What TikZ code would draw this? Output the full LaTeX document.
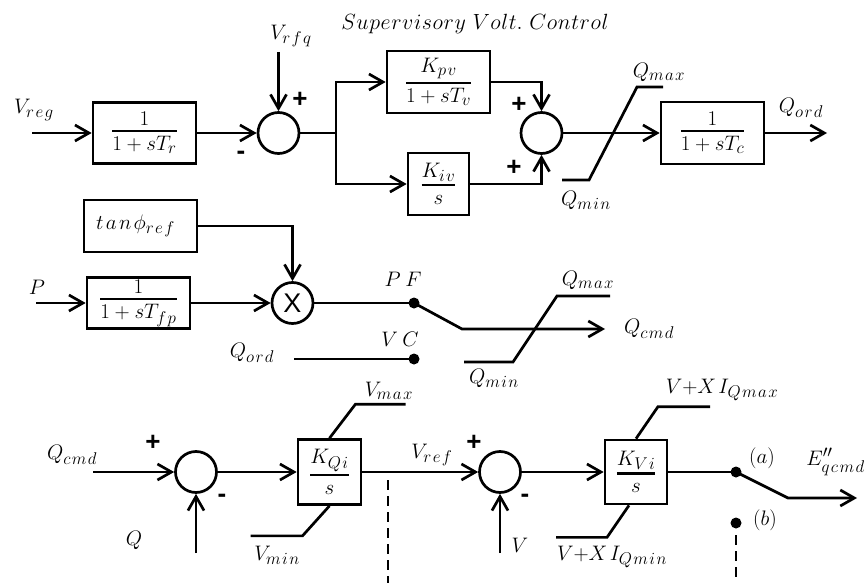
\RequirePackage{fix-cm}
\documentclass[tikz,border=0pt]{standalone}
\usepackage{amsmath}
\usepackage{fontspec}
\newfontfamily\arialf{Liberation Sans}
\usetikzlibrary{arrows.meta}
\DeclareMathSizes{21}{21}{17}{12}
\DeclareMathSizes{22}{22}{16}{12}
\newcommand{\ks}{\mkern1.5mu}
\newcommand{\ts}{\mkern2mu}
\newcommand{\tts}{\mkern0.5mu}
\newcommand{\ws}{\mkern4mu}
\newcommand{\fr}[2]{{{\textstyle #1\rule[-2pt]{0pt}{2pt}}\above 2.4pt{\textstyle\rule{0pt}{16pt}#2}}}
\tikzset{
  blk/.style={draw, inner sep=0pt, font=\fontsize{21}{24}\selectfont},
  sumc/.style={draw, circle, minimum size=41pt, inner sep=0pt},
  lbl/.style={font=\fontsize{21}{24}\selectfont, inner sep=0pt},
  ttl/.style={font=\fontsize{22}{26}\selectfont, inner sep=0pt},
  sgn/.style={font=\arialf\bfseries\fontsize{26}{28}\selectfont, inner sep=0pt},
  dotn/.style={circle, fill, minimum size=11pt, inner sep=0pt},
  arr/.style={-{Straight Barb[length=14pt,width=16pt]}},
  dsh/.style={dash pattern=on 10pt off 6pt},
}
\begin{document}
\begin{tikzpicture}[x=1pt,y=-1pt,line width=2.7pt]
\useasboundingbox (0,0) rectangle (864,583);
% ---------- top section ----------
\node[ttl] (title) at (475,24) {$S\tts u\tts p\tts e\tts r\tts v\tts i\tts s\tts o\tts r\tts y\ V\tts o\tts l\tts t.\ C\tts o\tts n\tts t\tts r\tts o\tts l$};
\node[blk, minimum width=103pt, minimum height=61pt] (Tr) at (144.5,133) {$\fr{1}{1+sT_r}$};
\node[sumc] (s1) at (278.5,133) {};
\node[blk, minimum width=103pt, minimum height=62pt] (Kpv) at (438.5,82) {$\fr{K_{p\ks v}}{1+sT_v}$};
\node[blk, minimum width=61pt, minimum height=62pt] (Kiv) at (438.5,184) {$\fr{K_{i\ks v}}{s}$};
\node[sumc] (s2) at (541.5,133) {};
\node[blk, minimum width=103pt, minimum height=62pt] (Tc) at (712.5,133) {$\fr{1}{1+sT_c}$};
\coordinate (in1) at (32,133);
\coordinate (vrfq) at (278.5,52);
\coordinate (br) at (336,133);
\coordinate (qordo) at (827,133);
\draw[arr] (in1) -- (Tr.west);
\draw[arr] (Tr.east) -- (s1.west);
\draw[arr] (vrfq) -- (s1.north);
\draw (s1.east) -- (br);
\draw[arr] (br) |- (Kpv.west);
\draw[arr] (br) |- (Kiv.west);
\draw[arr] (Kpv.east) -| (s2.north);
\draw[arr] (Kiv.east) -| (s2.south);
\draw[arr] (s2.east) -- (Tc.west);
\draw[arr] (Tc.east) -- (qordo);
\draw (663,87) -- (637,87) -- (589,180) -- (562,180);
\node[lbl] (lvreg) at (34,110) {$V_{r\ks e\ks g}$};
\node[lbl] (lvrfq) at (291,36) {$V_{r\ks f\ks q}$};
\node[lbl] (lqmax1) at (659,72) {$Q_{m\ks a\ks x}$};
\node[lbl] (lqmin1) at (586,200) {$Q_{m\ks i\ks n}$};
\node[lbl] (lqord1) at (801,108) {$Q_{o\ks r\ks d}$};
\node[sgn] (p1) at (300,100) {+};
\node[sgn] (m1) at (241,155) {-};
\node[sgn] (p2) at (519,105) {+};
\node[sgn] (p3) at (514,168) {+};
% ---------- middle section ----------
\node[blk, minimum width=113pt, minimum height=52pt] (tan) at (140.5,226) {\hspace*{-10pt}$t\ts a\ts n\ts\phi_{r\ks e\ks f}$};
\node[blk, minimum width=103pt, minimum height=51pt] (Tfp) at (138.5,303) {$\fr{1}{1+sT_{f\ks p}}$};
\node[sumc, font=\arialf\fontsize{27}{29}\selectfont] (mul) at (292.5,303) {X};
\node[dotn] (pf) at (414,303) {};
\node[dotn] (vc) at (414,359) {};
\coordinate (pin) at (36,303);
\coordinate (sw1) at (462,329);
\coordinate (qcmdo) at (605,329);
\coordinate (qords) at (294,359);
\draw[arr] (tan.east) -| (mul.north);
\draw[arr] (pin) -- (Tfp.west);
\draw[arr] (Tfp.east) -- (mul.west);
\draw (mul.east) -- (pf.center);
\draw[arr] (pf.center) -- (sw1) -- (qcmdo);
\draw (qords) -- (vc.center);
\draw (610,296) -- (557,296) -- (513,362) -- (464,362);
\node[lbl] (lp) at (37,287) {$P$};
\node[lbl] (lpf) at (403,279) {$P\ws F$};
\node[lbl] (lvc) at (400,339) {$V\ws C$};
\node[lbl] (lqord2) at (252,353) {$Q_{o\ks r\ks d}$};
\node[lbl] (lqmax2) at (588,280) {$Q_{m\ks a\ks x}$};
\node[lbl] (lqcmd2) at (649,329) {$Q_{c\ks m\ks d}$};
\node[lbl] (lqmin2) at (494,378) {$Q_{m\ks i\ks n}$};
% ---------- bottom section ----------
\node[sumc] (s3) at (196,472) {};
\node[blk, minimum width=63pt, minimum height=65pt] (KQi) at (329.5,472) {$\fr{K_{Q\ks i}}{s}$};
\node[sumc] (s4) at (500,472) {};
\node[blk, minimum width=62pt, minimum height=64pt] (KVi) at (636,472) {$\fr{K_{V\ks i}}{s}$};
\node[dotn] (da) at (736,472) {};
\node[dotn] (db) at (736,523) {};
\coordinate (qcin) at (93,472);
\coordinate (qin) at (196,553);
\coordinate (vin) at (500,553);
\coordinate (sw2) at (788,498);
\coordinate (eo) at (857,498);
\coordinate (d1a) at (388,480);
\coordinate (d1b) at (388,590);
\coordinate (d2a) at (736,535);
\coordinate (d2b) at (736,590);
\draw[arr] (qcin) -- (s3.west);
\draw[arr] (qin) -- (s3.south);
\draw[arr] (s3.east) -- (KQi.west);
\draw[arr] (KQi.east) -- (s4.west);
\draw[arr] (vin) -- (s4.south);
\draw[arr] (s4.east) -- (KVi.west);
\draw (KVi.east) -- (da.center);
\draw[arr] (da.center) -- (sw2) -- (eo);
\draw[dsh] (d1a) -- (d1b);
\draw[dsh] (d2a) -- (d2b);
\draw (KQi.north) -- ++(26,-34) -- ++(50,0);
\draw (KQi.south) -- ++(-27,30) -- ++(-52,0);
\draw (KVi.north) -- ++(22,-32) -- ++(52,0);
\draw ([xshift=-7pt]KVi.south) -- ++(-22,32) -- ++(-51,0);
\node[lbl] (lqcmd3) at (72,455) {$Q_{c\ks m\ks d}$};
\node[lbl] (lq) at (134,540) {$Q$};
\node[lbl] (lvmax) at (389,391) {$V_{m\ks a\ks x}$};
\node[lbl] (lvmin) at (277,555) {$V_{m\ks i\ks n}$};
\node[lbl] (lvref) at (432,455) {$V_{r\ks e\ks f}$};
\node[lbl] (lv) at (520,545) {$V$};
\node[lbl] (lxmax) at (722,390) {$V{+}X\ts I_{Q\ks m\ks a\ks x}$};
\node[lbl] (lxmin) at (612,557) {$V{+}X\ts I_{Q\ks m\ks i\ks n}$};
\node[lbl] (la) at (762,458) {$(a)$};
\node[lbl] (lb) at (765,520) {$(b)$};
\node[lbl, anchor=west] (le) at (805,462) {$E^{\prime\prime}_{q\ks c\ks m\ks d}$};
\node[sgn] (p4) at (153,443) {+};
\node[sgn] (m4) at (222,498) {-};
\node[sgn] (p5) at (474,443) {+};
\node[sgn] (m5) at (525,498) {-};
\end{tikzpicture}
\end{document}
